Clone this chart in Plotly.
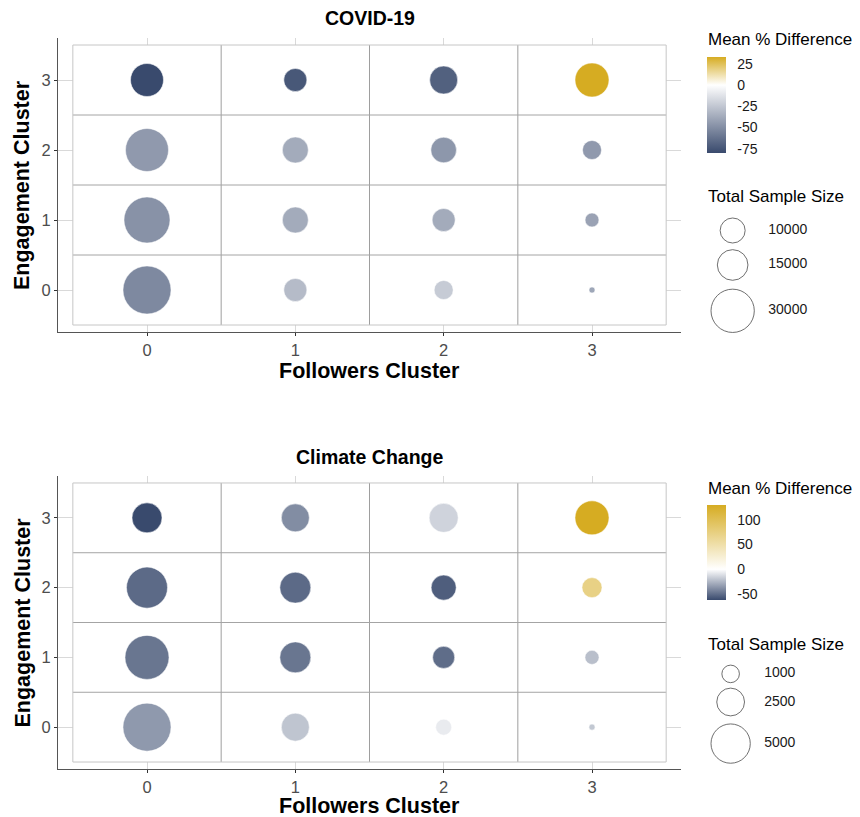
import numpy as np
import plotly.graph_objects as go

W, H = 860, 817

# ---------------- data ----------------
followers = [0, 1, 2, 3]
engagement = [0, 1, 2, 3]
tick_labels = ["0", "1", "2", "3"]

# rows = engagement cluster 0..3, columns = followers cluster 0..3
covid_diff = [
    [-52, -30, -23, -39],
    [-48, -37, -37, -41],
    [-45, -37, -46, -45],
    [-80, -74, -70, 33],
]
covid_n = [
    [36900, 8500, 5800, 580],
    [33900, 10800, 8500, 3100],
    [29600, 10800, 10500, 5800],
    [17400, 8500, 12500, 18500],
]
climate_diff = [
    [-35, -20, -7, -19],
    [-47, -47, -50, -22],
    [-51, -51, -55, 72],
    [-62, -39, -15, 130],
]
climate_n = [
    [7470, 2540, 830, 120],
    [6270, 3110, 1570, 640],
    [5450, 3110, 2030, 1300],
    [2920, 2540, 2730, 3750],
]
covid_cbar_ticks = [-75, -50, -25, 0, 25]
climate_cbar_ticks = [-50, 0, 50, 100]
covid_size_legend = [10000, 15000, 30000]
climate_size_legend = [1000, 2500, 5000]

NAVY = "#394a6d"
GOLD = "#d6ac22"
FONT = "Liberation Sans, Arial, Helvetica, sans-serif"


def px_x(x):
    return x / W


def px_y(y):
    return 1 - y / H


def flat(grid):
    xs, ys, vs = [], [], []
    for i, e in enumerate(engagement):
        for j, f in enumerate(followers):
            xs.append(f)
            ys.append(e)
            vs.append(grid[i][j])
    return xs, ys, vs


fig = go.Figure()

panels = [
    dict(diff=covid_diff, n=covid_n, sizeref=4.0, ticks=covid_cbar_ticks,
         xa="x", ya="y", cb_top=57, cb_bot=153, size_leg=covid_size_legend,
         title="COVID-19", top=38, bot=332, title_y=18, xtitle_y=371,
         cbtitle_y=40, sltitle_y=196),
    dict(diff=climate_diff, n=climate_n, sizeref=1.8, ticks=climate_cbar_ticks,
         xa="x2", ya="y2", cb_top=505, cb_bot=600, size_leg=climate_size_legend,
         title="Climate Change", top=476, bot=769, title_y=457, xtitle_y=806,
         cbtitle_y=488, sltitle_y=644),
]

X_LEFT, X_RIGHT = 58, 681
shapes = []
annotations = []

for p in panels:
    xs, ys, vals = flat(p["diff"])
    _, _, ns = flat(p["n"])
    cmin, cmax = min(vals), max(vals)
    zf = -cmin / (cmax - cmin)
    cscale = [[0, NAVY], [zf, "#ffffff"], [1, GOLD]]
    fig.add_trace(go.Scatter(
        x=xs, y=ys, mode="markers", xaxis=p["xa"], yaxis=p["ya"],
        marker=dict(size=np.sqrt(ns), sizemode="diameter", sizeref=p["sizeref"],
                    color=vals, colorscale=cscale, cmin=cmin, cmax=cmax,
                    line=dict(width=0.6, color="rgba(255,255,255,0.85)"),
                    opacity=1,
                    colorbar=dict(
                        x=px_x(707), xanchor="left",
                        y=px_y((p["cb_top"] + p["cb_bot"]) / 2), yanchor="middle",
                        len=(p["cb_bot"] - p["cb_top"]) / H, lenmode="fraction",
                        thickness=19, thicknessmode="pixels",
                        outlinewidth=0, xpad=0, ypad=0,
                        tickvals=p["ticks"], ticktext=[str(t) for t in p["ticks"]],
                        ticks="outside", ticklen=9, tickcolor="rgba(0,0,0,0)",
                        tickfont=dict(family=FONT, size=14, color="#1a1a1a"),
                    )),
        hoverinfo="skip", showlegend=False,
    ))

    # tiles (white background + borders) above gridlines, below markers
    x0, x1 = min(followers) - 0.5, max(followers) + 0.5
    y0, y1 = min(engagement) - 0.5, max(engagement) + 0.5
    shapes.append(dict(type="rect", xref=p["xa"], yref=p["ya"], x0=x0, x1=x1, y0=y0, y1=y1,
                       fillcolor="white", line=dict(width=0), layer="between"))
    for b in followers[:-1]:
        shapes.append(dict(type="line", xref=p["xa"], yref=p["ya"], x0=b + 0.5, x1=b + 0.5,
                           y0=y0, y1=y1, line=dict(color="#9e9e9e", width=1), layer="between"))
    for b in engagement[:-1]:
        shapes.append(dict(type="line", xref=p["xa"], yref=p["ya"], x0=x0, x1=x1,
                           y0=b + 0.5, y1=b + 0.5, line=dict(color="#a4a4a4", width=1), layer="between"))
    shapes.append(dict(type="rect", xref=p["xa"], yref=p["ya"], x0=x0, x1=x1, y0=y0, y1=y1,
                       line=dict(color="#c6c6c6", width=1), layer="between"))

    xc = (X_LEFT + X_RIGHT) / 2
    annotations += [
        dict(text="<b>%s</b>" % p["title"], xref="paper", yref="paper", x=px_x(xc), y=px_y(p["title_y"]),
             xanchor="center", yanchor="middle", showarrow=False, font=dict(family=FONT, size=19.5, color="black")),
        dict(text="<b>Followers Cluster</b>", xref="paper", yref="paper", x=px_x(xc), y=px_y(p["xtitle_y"]),
             xanchor="center", yanchor="middle", showarrow=False, font=dict(family=FONT, size=21.5, color="black")),
        dict(text="<b>Engagement Cluster</b>", xref="paper", yref="paper", x=px_x(22),
             y=px_y((p["top"] + p["bot"]) / 2), textangle=-90,
             xanchor="center", yanchor="middle", showarrow=False, font=dict(family=FONT, size=21.5, color="black")),
        dict(text="Mean % Difference", xref="paper", yref="paper", x=px_x(706), y=px_y(p["cbtitle_y"]),
             xanchor="left", yanchor="middle", showarrow=False, font=dict(family=FONT, size=17, color="black")),
        dict(text="Total Sample Size", xref="paper", yref="paper", x=px_x(706), y=px_y(p["sltitle_y"]),
             xanchor="left", yanchor="middle", showarrow=False, font=dict(family=FONT, size=17, color="black")),
    ]

    # size legend on a pixel-coordinate helper axis
    vals_leg = p["size_leg"]
    d = [np.sqrt(v) / p["sizeref"] for v in vals_leg]
    dmax = max(d)
    key_left = 711
    cx = key_left + dmax / 2
    centers = []
    cur = p["sltitle_y"] + 19
    for di in d:
        kh = 1.24 * di
        centers.append(cur + kh / 2)
        cur += kh
    fig.add_trace(go.Scatter(
        x=[cx] * len(vals_leg), y=centers, mode="markers", xaxis="x3", yaxis="y3",
        marker=dict(size=np.sqrt(vals_leg), sizemode="diameter", sizeref=p["sizeref"],
                    color="white", line=dict(color="black", width=0.8)),
        hoverinfo="skip", showlegend=False))
    fig.add_trace(go.Scatter(
        x=[key_left + dmax + 14] * len(vals_leg), y=centers, mode="text", xaxis="x3", yaxis="y3",
        text=[str(v) for v in vals_leg], textposition="middle right",
        textfont=dict(family=FONT, size=14, color="#1a1a1a"),
        hoverinfo="skip", showlegend=False))

axis_common = dict(
    range=[-0.6, 3.6], tickvals=followers, ticktext=tick_labels,
    showgrid=True, gridcolor="#d9d9d9", gridwidth=1.2, zeroline=False,
    showline=True, linecolor="#555555", linewidth=1,
    ticks="outside", ticklen=3, tickcolor="#333333", tickwidth=1,
    tickfont=dict(family=FONT, size=16.5, color="#4d4d4d"),
    fixedrange=True,
)

fig.update_layout(
    width=W, height=H,
    margin=dict(l=0, r=0, t=0, b=0),
    paper_bgcolor="white", plot_bgcolor="rgba(0,0,0,0)",
    font=dict(family=FONT),
    xaxis=dict(domain=[px_x(X_LEFT), px_x(X_RIGHT)], anchor="y", **axis_common),
    yaxis=dict(domain=[px_y(332), px_y(38)], anchor="x", **axis_common),
    xaxis2=dict(domain=[px_x(X_LEFT), px_x(X_RIGHT)], anchor="y2", **axis_common),
    yaxis2=dict(domain=[px_y(769), px_y(476)], anchor="x2", **axis_common),
    xaxis3=dict(domain=[0, 1], range=[0, W], anchor="y3", visible=False, fixedrange=True),
    yaxis3=dict(domain=[0, 1], range=[H, 0], anchor="x3", visible=False, fixedrange=True),
    shapes=shapes,
    annotations=annotations,
    showlegend=False,
)

fig.write_html("out.html", config={"displayModeBar": False},
               post_script="document.body.style.margin='0px';document.body.style.padding='0px';")
